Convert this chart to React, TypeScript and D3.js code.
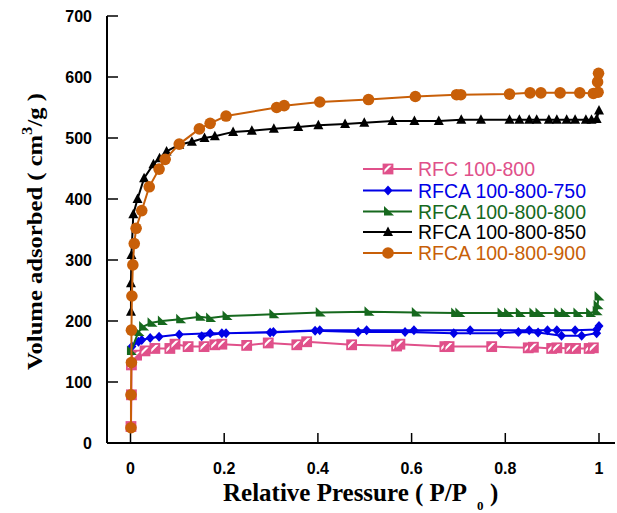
import React from "react";
import * as d3 from "d3";

const xTicks = [0, 0.2, 0.4, 0.6, 0.8, 1];
const xTickLabels = ["0", "0.2", "0.4", "0.6", "0.8", "1"];
const yTicks = [0, 100, 200, 300, 400, 500, 600, 700];

const seriesNames = ["RFC 100-800", "RFCA 100-800-750", "RFCA 100-800-800", "RFCA 100-800-850", "RFCA 100-800-900"];
const seriesColors = ["#E0508A", "#0000E6", "#16691E", "#000000", "#C85F08"];
const seriesMarkers = ["squareTri", "diamond", "rightTri", "triangle", "circle"];

const rfcP = [0.001, 0.002, 0.002, 0.013, 0.031, 0.052, 0.084, 0.095, 0.123, 0.157, 0.18, 0.195, 0.248, 0.294, 0.355, 0.376, 0.472, 0.568, 0.575, 0.671, 0.68, 0.771, 0.849, 0.86, 0.899, 0.91, 0.938, 0.95, 0.979, 0.988];
const rfcV = [27, 79, 128, 144, 151, 155, 155, 162, 158, 158, 161, 162, 160, 164, 161, 166, 161, 159, 162, 158, 158, 158, 156, 157, 155, 156, 155, 155, 155, 156];

const rfca750P = [0.003, 0.017, 0.024, 0.042, 0.061, 0.104, 0.17, 0.204, 0.305, 0.404, 0.504, 0.605, 0.725, 0.851, 0.89, 0.91, 0.949, 0.995, 1.0, 0.995, 0.963, 0.92, 0.87, 0.828, 0.79, 0.69, 0.586, 0.486, 0.394, 0.298, 0.195, 0.152];
const rfca750V = [158, 166, 169, 172, 174, 178, 180, 180, 182, 185, 185, 185, 185, 185, 185, 185, 185, 186, 192, 180, 176, 176, 181, 182, 180, 180, 182, 182, 184, 181, 180, 175];

const rfca800P = [0.001, 0.017, 0.027, 0.045, 0.067, 0.106, 0.148, 0.17, 0.205, 0.305, 0.404, 0.508, 0.609, 0.693, 0.702, 0.792, 0.806, 0.831, 0.86, 0.873, 0.913, 0.927, 0.954, 0.981, 0.995, 0.997, 0.999];
const rfca800V = [151, 182, 191, 197, 200, 203, 207, 205, 208, 211, 214, 215, 214, 213, 213, 213, 213, 213, 213, 213, 213, 213, 213, 213, 216, 226, 240];

const rfca850P = [0.001, 0.001, 0.002, 0.006, 0.015, 0.029, 0.049, 0.062, 0.077, 0.104, 0.131, 0.158, 0.18, 0.219, 0.259, 0.306, 0.358, 0.401, 0.458, 0.499, 0.559, 0.606, 0.658, 0.706, 0.748, 0.809, 0.83, 0.851, 0.867, 0.893, 0.91, 0.931, 0.949, 0.972, 0.984, 0.995, 1.0];
const rfca850V = [215, 262, 308, 375, 400, 434, 457, 467, 478, 489, 494, 500, 503, 510, 512, 515, 518, 521, 523, 525, 528, 528, 528, 530, 530, 530, 530, 530, 530, 530, 530, 530, 530, 530, 530, 531, 545];

const rfca900P = [0.001, 0.001, 0.002, 0.002, 0.003, 0.005, 0.008, 0.012, 0.024, 0.04, 0.061, 0.074, 0.104, 0.147, 0.17, 0.204, 0.312, 0.328, 0.404, 0.508, 0.608, 0.696, 0.705, 0.809, 0.853, 0.876, 0.917, 0.959, 0.988, 0.998, 0.997, 0.999];
const rfca900V = [25, 79, 132, 185, 241, 292, 327, 352, 381, 420, 449, 465, 490, 515, 524, 536, 550, 553, 559, 563, 568, 571, 571, 572, 574, 574, 574, 574, 573, 575, 592, 606];

const seriesP = [rfcP, rfca750P, rfca800P, rfca850P, rfca900P];
const seriesV = [rfcV, rfca750V, rfca800V, rfca850V, rfca900V];

function Marker({ kind, x, y, color }: { kind: string; x: number; y: number; color: string }) {
  if (kind === "circle") return <circle cx={x} cy={y} r={5.8} fill={color} />;
  if (kind === "triangle")
    return <path d={`M${x},${y - 5.5}L${x + 5},${y + 4}L${x - 5},${y + 4}Z`} fill={color} />;
  if (kind === "diamond")
    return <path d={`M${x},${y - 5}L${x + 4.5},${y}L${x},${y + 5}L${x - 4.5},${y}Z`} fill={color} />;
  if (kind === "rightTri")
    return <path d={`M${x - 4},${y - 5.5}L${x + 6},${y + 4}L${x - 4},${y + 4}Z`} fill={color} />;
  return (
    <g>
      <rect x={x - 4.5} y={y - 4.5} width={9} height={9} fill="white" stroke={color} strokeWidth={1.8} />
      <path d={`M${x - 4.5},${y + 4.5}L${x + 4.5},${y - 4.5}L${x + 4.5},${y + 4.5}Z`} fill={color} />
      <path d={`M${x - 4.5},${y - 4.5}L${x + 1.5},${y - 4.5}L${x - 4.5},${y + 1.5}Z`} fill={color} />
    </g>
  );
}

export default function App() {
  const x = d3.scaleLinear().domain([0, 1]).range([130.5, 599]);
  const y = d3.scaleLinear().domain([0, 700]).range([443, 16]);
  const axisX = 107;
  const line = d3
    .line<[number, number]>()
    .x((d) => x(d[0]))
    .y((d) => y(d[1]));

  const legendY = [169, 190.5, 211.5, 232, 253];
  const serif = "Liberation Serif, Times New Roman, serif";
  const sans = "Liberation Sans, Arial, sans-serif";

  return (
    <svg width={617} height={513} style={{ position: "absolute", left: 0, top: 0, background: "white" }}>
      <line x1={axisX} y1={y(700)} x2={axisX} y2={y(0)} stroke="black" strokeWidth={2} />
      <line x1={axisX} y1={y(0)} x2={615} y2={y(0)} stroke="black" strokeWidth={2} />
      {yTicks.map((t) => (
        <g key={"y" + t}>
          <line x1={axisX} x2={axisX + 11} y1={y(t)} y2={y(t)} stroke="black" strokeWidth={1.5} />
          <text x={92} y={y(t)} dy="0.36em" textAnchor="end" fontFamily={sans} fontWeight="bold" fontSize={16}>
            {t}
          </text>
        </g>
      ))}
      {xTicks.map((t, i) => (
        <g key={"x" + t}>
          <line x1={x(t)} x2={x(t)} y1={y(0)} y2={y(0) - 10} stroke="black" strokeWidth={1.5} />
          <text x={x(t)} y={474} textAnchor="middle" fontFamily={sans} fontWeight="bold" fontSize={16}>
            {xTickLabels[i]}
          </text>
        </g>
      ))}
      <text x={223} y={501} fontFamily={serif} fontWeight="bold" fontSize={25} textLength={244} lengthAdjust="spacingAndGlyphs">
        Relative Pressure ( P/P
      </text>
      <text x={477} y={510} fontFamily={serif} fontWeight="bold" fontSize={13}>
        0
      </text>
      <text x={490} y={501} fontFamily={serif} fontWeight="bold" fontSize={25}>
        )
      </text>
      <g transform="translate(42,231.5) rotate(-90)">
        <text x={0} y={0} textAnchor="middle" fontFamily={serif} fontWeight="bold" fontSize={22} textLength={277} lengthAdjust="spacingAndGlyphs">
          Volume adsorbed ( cm
          <tspan dy={-10} fontSize={15}>3</tspan>
          <tspan dy={10}>/g )</tspan>
        </text>
      </g>
      {seriesNames.map((name, si) => {
        const pts: [number, number][] = seriesP[si].map((p, i) => [p, seriesV[si][i]]);
        return (
          <g key={name}>
            <path d={line(pts) || ""} fill="none" stroke={seriesColors[si]} strokeWidth={2} />
            {pts.map((d, i) => (
              <Marker key={i} kind={seriesMarkers[si]} x={x(d[0])} y={y(d[1])} color={seriesColors[si]} />
            ))}
          </g>
        );
      })}
      {seriesNames.map((name, si) => (
        <g key={"leg" + name}>
          <line x1={363} x2={412} y1={legendY[si]} y2={legendY[si]} stroke={seriesColors[si]} strokeWidth={2} />
          <Marker kind={seriesMarkers[si]} x={388} y={legendY[si]} color={seriesColors[si]} />
          <text x={418} y={legendY[si]} dy="0.36em" fill={seriesColors[si]} fontFamily={sans} fontSize={19.5}>
            {name}
          </text>
        </g>
      ))}
    </svg>
  );
}
